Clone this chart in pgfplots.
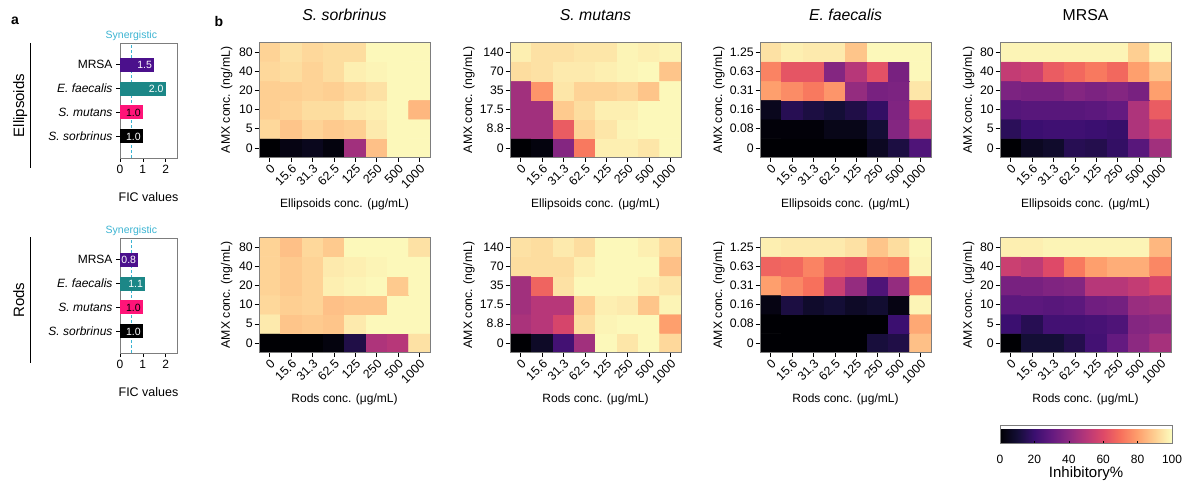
\documentclass[border=0pt]{standalone}
\usepackage{fontspec}
\setmainfont{Liberation Sans}
\usepackage{pgfplots}
\usepackage{pgfplotstable}
\pgfplotsset{compat=1.18}
\newcommand\fs[1]{\fontsize{#1pt}{#1pt}\selectfont}
\definecolor{syn}{RGB}{60,180,210}
\definecolor{cMRSA}{RGB}{75,16,140}
\definecolor{cEF}{RGB}{28,135,135}
\definecolor{cSM}{RGB}{255,20,120}
\definecolor{cSS}{RGB}{0,0,0}
\definecolor{frame}{RGB}{125,125,125}

% heatmap tables: one value per cell, bottom row (AMX 0) first, columns left to right
\pgfplotstableread[row sep=\\,header=false]{
0\\3\\5\\2\\45\\87\\99\\99\\
92\\88\\91\\89\\90\\96\\99\\99\\
90\\91\\93\\93\\96\\97\\99\\85\\
90\\90\\91\\90\\92\\94\\99\\99\\
92\\93\\91\\93\\97\\98\\99\\99\\
91\\94\\92\\93\\93\\99\\99\\99\\
}\tabSsE
\pgfplotstableread[row sep=\\,header=false]{
0\\2\\38\\72\\97\\97\\95\\99\\
45\\45\\65\\91\\95\\98\\99\\99\\
45\\45\\89\\93\\97\\97\\99\\99\\
45\\78\\95\\91\\91\\92\\88\\99\\
93\\94\\96\\96\\97\\98\\99\\88\\
97\\94\\94\\95\\95\\98\\97\\98\\
}\tabSmE
\pgfplotstableread[row sep=\\,header=false]{
0\\0\\0\\0\\0\\6\\12\\25\\
1\\1\\1\\4\\4\\10\\38\\55\\
5\\15\\12\\10\\13\\18\\37\\62\\
80\\76\\72\\78\\42\\35\\36\\95\\
74\\63\\63\\38\\50\\62\\35\\99\\
94\\97\\96\\96\\88\\99\\99\\99\\
}\tabEfE
\pgfplotstableread[row sep=\\,header=false]{
0\\6\\8\\15\\14\\18\\27\\45\\
16\\20\\21\\21\\20\\19\\48\\56\\
26\\27\\27\\27\\28\\30\\48\\65\\
36\\35\\35\\38\\36\\38\\35\\80\\
53\\55\\65\\68\\72\\68\\80\\88\\
98\\98\\98\\98\\98\\98\\90\\99\\
}\tabMrE
\pgfplotstableread[row sep=\\,header=false]{
0\\0\\0\\2\\13\\48\\50\\94\\
96\\88\\89\\88\\96\\99\\99\\99\\
92\\90\\91\\87\\88\\88\\99\\99\\
91\\89\\91\\97\\98\\99\\89\\99\\
91\\89\\91\\96\\97\\98\\99\\99\\
91\\87\\92\\89\\99\\99\\99\\94\\
}\tabSsR
\pgfplotstableread[row sep=\\,header=false]{
0\\7\\22\\45\\99\\95\\99\\92\\
47\\50\\58\\93\\98\\99\\99\\80\\
45\\50\\50\\90\\97\\96\\88\\98\\
45\\67\\94\\99\\99\\99\\97\\95\\
93\\93\\93\\97\\99\\99\\99\\87\\
94\\93\\96\\93\\99\\99\\97\\92\\
}\tabSmR
\pgfplotstableread[row sep=\\,header=false]{
0\\0\\0\\0\\0\\11\\13\\87\\
0\\0\\0\\0\\0\\0\\20\\82\\
3\\12\\8\\10\\7\\9\\3\\98\\
80\\75\\70\\55\\42\\25\\42\\74\\
67\\68\\74\\67\\65\\76\\74\\98\\
97\\96\\96\\96\\94\\88\\93\\99\\
}\tabEfR
\pgfplotstableread[row sep=\\,header=false]{
0\\10\\10\\14\\22\\30\\40\\46\\
20\\15\\22\\22\\23\\25\\38\\40\\
28\\28\\27\\28\\33\\34\\43\\45\\
35\\35\\37\\38\\50\\50\\53\\58\\
55\\52\\60\\72\\80\\83\\83\\75\\
97\\97\\98\\98\\98\\98\\98\\85\\
}\tabMrR

\pgfplotsset{
  /pgf/number format/assume math mode=true,
  colormap={magma}{rgb255=(0,0,4) rgb255=(20,14,54) rgb255=(59,15,112) rgb255=(100,26,128) rgb255=(140,41,129) rgb255=(183,55,121) rgb255=(222,73,104) rgb255=(247,112,92) rgb255=(254,159,109) rgb255=(254,207,146) rgb255=(252,253,191)},
  hm/.style={
    scale only axis, width=171pt, height=115pt, anchor=south west,
    xmin=-0.5, xmax=7.5, ymin=-0.5, ymax=5.5,
    xtick={0,...,7}, ytick={0,...,5},
    xticklabels={0,15.6,31.3,62.5,125,250,500,1000},
    tick align=outside, xtick pos=left, ytick pos=left,
    major tick length=4.5pt,
    axis line style={draw=frame},
    tick style={black, line width=0.5pt},
    tick label style={font=\fs{12.3}},
    x tick label style={rotate=45, anchor=north east, inner sep=1pt},
    y tick label style={inner sep=1.5pt},
    colormap name=magma, point meta min=0, point meta max=100,
    axis on top,
    title style={at={(axis description cs:0.5,1.14)}, anchor=base, font=\fs{15.8}},
    xlabel style={at={(axis description cs:0.5,-0.435)}, anchor=base, font=\fs{12}},
    ylabel style={anchor=base, font=\fs{12.3}},
  },
  fic/.style={
    scale only axis, width=57pt, height=115pt, anchor=south west,
    xmin=0, xmax=2.5, ymin=-0.9, ymax=3.9, clip=false,
    xtick={0,1,2}, ytick={0,1,2,3},
    yticklabels={\textit{S. sorbrinus},\textit{S. mutans},\textit{E. faecalis},MRSA},
    tick align=outside, xtick pos=left, ytick pos=left, major tick length=4pt,
    axis line style={draw=frame}, tick style={black, line width=0.5pt},
    tick label style={font=\fs{12}},
    xlabel={FIC values},
    xlabel style={at={(axis description cs:0.5,-0.375)}, anchor=base, font=\fs{12.5}},
  },
  fbar/.style={
    xbar, bar width=14pt, draw=none, point meta=x,
    nodes near coords={\pgfmathprintnumber[fixed,fixed zerofill,precision=1]{\pgfplotspointmeta}},
    nodes near coords style={anchor=east, font=\fs{10.5}, text=white, inner sep=2pt},
  },
}

\newcommand\hm[9]{%
\begin{axis}[hm, at={(#2pt,-#3pt)}, title={#4}, yticklabels={#5}, ylabel={#6},
  ylabel style={at={(axis description cs:#7,0.5)}}, xlabel={#8}, #1]
\addplot[matrix plot*, mesh/cols=8, point meta=explicit]
  table[x index=0, y index=0, meta index=0,
        x expr={\coordindex-8*floor(\coordindex/8+0.01)},
        y expr={floor(\coordindex/8+0.01)}] {#9};
\end{axis}}

\begin{document}
\begin{tikzpicture}
\useasboundingbox (0,0) rectangle (1182pt,-481pt);

% ---------- panel a ----------
\node[font=\bfseries\fs{14}] at (15pt,-21pt) {a};
\node[font=\bfseries\fs{14}] at (219pt,-21pt) {b};

\draw[line width=1pt] (30pt,-43pt) -- (30pt,-168pt);
\node[rotate=90, anchor=base, font=\fs{15}] at (24pt,-105.5pt) {Ellipsoids};
\draw[line width=1pt] (30pt,-237pt) -- (30pt,-363pt);
\node[rotate=90, anchor=base, font=\fs{15}] at (24pt,-300pt) {Rods};

\begin{axis}[fic, at={(120pt,-158pt)}]
\draw[syn, densely dashed, line width=0.7pt] (axis cs:0.5,-0.9) -- (axis cs:0.5,3.9);
\addplot[fbar, fill=cSS] coordinates {(1.0,0)};
\addplot[fbar, fill=cSM, nodes near coords style={text=black}] coordinates {(1.0,1)};
\addplot[fbar, fill=cEF] coordinates {(2.0,2)};
\addplot[fbar, fill=cMRSA] coordinates {(1.5,3)};
\node[text=syn, font=\fs{10.5}, anchor=base, yshift=5pt] at (axis cs:0.5,3.9) {Synergistic};
\end{axis}

\begin{axis}[fic, at={(120pt,-353pt)}]
\draw[syn, densely dashed, line width=0.7pt] (axis cs:0.5,-0.9) -- (axis cs:0.5,3.9);
\addplot[fbar, fill=cSS] coordinates {(1.0,0)};
\addplot[fbar, fill=cSM, nodes near coords style={text=black}] coordinates {(1.0,1)};
\addplot[fbar, fill=cEF] coordinates {(1.1,2)};
\addplot[fbar, fill=cMRSA] coordinates {(0.8,3)};
\node[text=syn, font=\fs{10.5}, anchor=base, yshift=5pt] at (axis cs:0.5,3.9) {Synergistic};
\end{axis}

% ---------- panel b ----------
\hm{}{259}{157.5}{\textit{S. sorbrinus}}{0,5,10,20,40,80}{AMX conc. (ng/mL)}{-0.17}{Ellipsoids conc. (μg/mL)}{\tabSsE}
\hm{}{510}{157.5}{\textit{S. mutans}}{0,8.8,17.5,35,70,140}{AMX conc. (ng/mL)}{-0.222}{Ellipsoids conc. (μg/mL)}{\tabSmE}
\hm{}{760}{157.5}{\textit{E. faecalis}}{0,0.08,0.16,0.31,0.63,1.25}{AMX conc. (ng/mL)}{-0.222}{Ellipsoids conc. (μg/mL)}{\tabEfE}
\hm{}{1000}{157.5}{MRSA}{0,5,10,20,40,80}{AMX conc. (μg/mL)}{-0.164}{Ellipsoids conc. (μg/mL)}{\tabMrE}

\hm{}{259}{352.5}{}{0,5,10,20,40,80}{AMX conc. (ng/mL)}{-0.17}{Rods conc. (μg/mL)}{\tabSsR}
\hm{}{510}{352.5}{}{0,8.8,17.5,35,70,140}{AMX conc. (ng/mL)}{-0.222}{Rods conc. (μg/mL)}{\tabSmR}
\hm{}{760}{352.5}{}{0,0.08,0.16,0.31,0.63,1.25}{AMX conc. (ng/mL)}{-0.222}{Rods conc. (μg/mL)}{\tabEfR}
\hm{colorbar horizontal,
  colorbar style={
    at={(parent axis.south west)}, anchor=north west, yshift=-64.5pt,
    scale only axis, width=172pt, height=18pt,
    xtick={0,20,40,60,80,100}, xticklabels={0,20,40,60,80,100},
    x tick label style={rotate=0, anchor=north, font=\fs{12}, yshift=-8pt},
    xtick pos=left, tick align=inside, major tick length=3pt, xtick style={black},
    ytick=\empty, axis line style={draw=frame},
    title={}, ylabel={},
    xlabel={Inhibitory\%},
    xlabel style={at={(axis description cs:0.5,-1.9)}, anchor=base, font=\fs{15}},
  }}{1000}{352.5}{}{0,5,10,20,40,80}{AMX conc. (μg/mL)}{-0.164}{Rods conc. (μg/mL)}{\tabMrR}

\end{tikzpicture}
\end{document}
